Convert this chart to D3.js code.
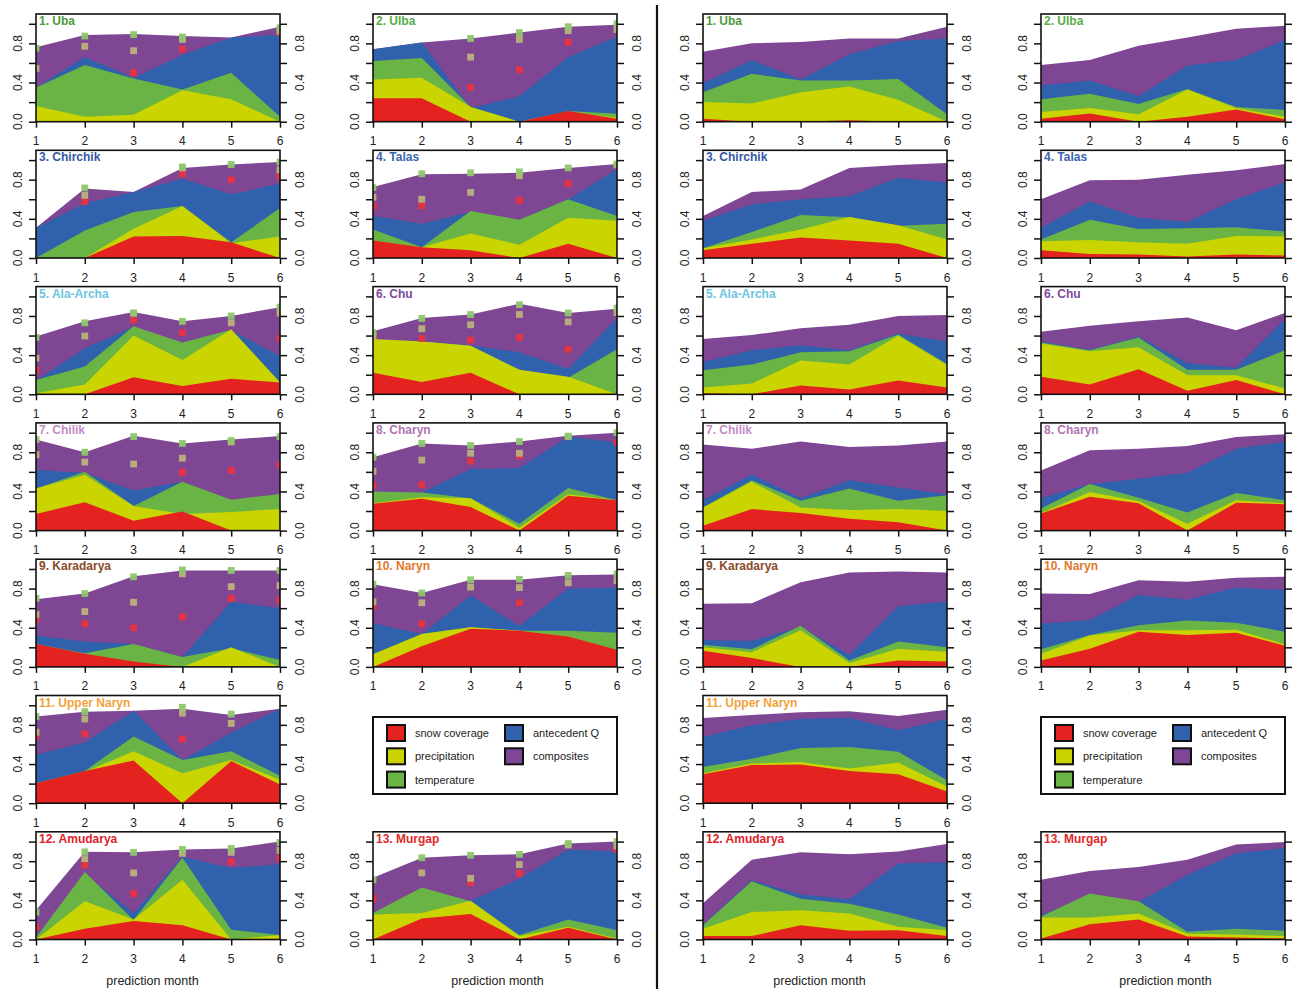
<!DOCTYPE html>
<html>
<head>
<meta charset="utf-8">
<script src="https://cdn.jsdelivr.net/npm/d3@7"></script>
<style>
  body { margin: 0; background: #fff; }
  text { font-family: "Liberation Sans", Arial, sans-serif; }
</style>
</head>
<body>
<div id="chart"></div>
<script>
// --- data ---
const months = [1, 2, 3, 4, 5, 6];
const yTicks = [0, 0.2, 0.4, 0.6, 0.8, 1.0];
const yLabels = [0, 0.4, 0.8];
const basins = ["1. Uba", "2. Ulba", "3. Chirchik", "4. Talas", "5. Ala-Archa", "6. Chu", "7. Chilik",
  "8. Charyn", "9. Karadarya", "10. Naryn", "11. Upper Naryn", "12. Amudarya", "13. Murgap"];
const basinColors = ["#4f9a3c", "#5aab48", "#3458a3", "#3a63b0", "#6cc5e0", "#7d4a9c", "#c48bc9",
  "#b273b3", "#8b4a2b", "#e2782c", "#f2a23a", "#e0202a", "#e02a2a"];
const factors = ["composites", "antecedent Q", "temperature", "precipitation", "snow coverage"];
const factorColors = ["#7f4693", "#2f61ad", "#69b445", "#c9d400", "#e42320"];

// left half (with scores)
const compL = [
  [0.76,0.885,0.895,0.875,0.86,0.97],[0.74,0.81,0.85,0.91,0.97,0.99],[0.31,0.71,0.675,0.92,0.955,0.98],
  [0.725,0.855,0.86,0.87,0.92,0.96],[0.59,0.745,0.84,0.745,0.8,0.89],[0.645,0.78,0.815,0.925,0.83,0.875],
  [0.93,0.8,0.97,0.89,0.93,0.965],[0.75,0.89,0.87,0.91,0.97,1.0],[0.69,0.75,0.925,0.985,0.985,0.985],
  [0.845,0.755,0.89,0.89,0.935,0.945],[0.885,0.935,0.945,0.965,0.9,0.965],[0.3,0.895,0.89,0.92,0.93,1.0],
  [0.63,0.835,0.86,0.87,0.98,1.0]];
const antQL = [
  [0.35,0.66,0.45,0.68,0.86,0.885],[0.74,0.81,0.14,0.26,0.66,0.87],[0.31,0.56,0.675,0.81,0.65,0.76],
  [0.43,0.35,0.47,0.39,0.6,0.91],[0.14,0.47,0.69,0.53,0.655,0.39],[0.56,0.54,0.5,0.43,0.26,0.78],
  [0.62,0.59,0.41,0.5,0.31,0.37],[0.4,0.39,0.63,0.64,0.96,0.9],[0.32,0.26,0.235,0.1,0.665,0.6],
  [0.445,0.335,0.73,0.42,0.8,0.81],[0.495,0.62,0.945,0.44,0.72,0.965],[0.02,0.67,0.27,0.845,0.73,0.77],
  [0.27,0.5,0.395,0.62,0.92,0.895]];
const tempL = [
  [0.35,0.58,0.44,0.33,0.5,0.05],[0.62,0.65,0.15,0,0.11,0.08],[0,0.28,0.47,0.53,0.16,0.51],
  [0.29,0.11,0.48,0.39,0.6,0.43],[0.145,0.285,0.695,0.53,0.66,0.12],[0.56,0.54,0.495,0.25,0.17,0.46],
  [0.43,0.6,0.25,0.5,0.315,0.375],[0.4,0.39,0.33,0.07,0.435,0.31],[0.235,0.14,0.235,0.1,0.19,0.07],
  [0.13,0.335,0.405,0.37,0.37,0.35],[0.205,0.33,0.68,0.44,0.53,0.28],[0.02,0.69,0.2,0.835,0.1,0.045],
  [0.27,0.53,0.39,0.045,0.205,0.095]];
const precipL = [
  [0.16,0.05,0.07,0.32,0.23,0],[0.43,0.45,0.15,0,0.1,0.04],[0,0,0.3,0.53,0.15,0.22],
  [0.17,0.11,0.25,0.135,0.41,0.38],[0.01,0.1,0.6,0.35,0.665,0.12],[0.565,0.54,0.495,0.25,0.18,0],
  [0.43,0.57,0.25,0.17,0.19,0.22],[0.28,0.34,0.33,0.03,0.37,0.31],[0.2,0.12,0.05,0,0.2,0],
  [0.13,0.335,0.405,0.37,0.31,0.17],[0.2,0.32,0.53,0.305,0.44,0.24],[0,0.39,0.205,0.61,0,0.045],
  [0.255,0.27,0.395,0.035,0.13,0.01]];
const snowL = [
  [0,0,0,0,0,0],[0.24,0.24,0,0,0.11,0.03],[0,0,0.22,0.225,0.16,0],
  [0.18,0.11,0.08,0,0.145,0],[0,0,0.175,0.085,0.16,0.12],[0.22,0.125,0.22,0,0,0],
  [0.17,0.29,0.1,0.195,0,0],[0.275,0.325,0.24,0,0.355,0.31],[0.235,0.135,0.055,0,0,0],
  [0,0.21,0.39,0.37,0.31,0.175],[0.205,0.33,0.435,0,0.43,0.19],[0,0.11,0.19,0.145,0,0],
  [0,0.215,0.26,0,0.12,0]];

// score markers (left half only)
const dotGreen = [
  [0.75,0.875,0.89,0.865,null,0.96],[null,null,0.85,0.91,0.97,1.0],[null,0.715,null,0.93,0.955,0.98],
  [0.72,0.86,0.87,0.88,0.92,0.96],[0.58,0.73,0.83,0.745,0.8,0.89],[0.63,0.775,0.815,0.915,0.83,0.88],
  [0.93,0.8,0.96,0.89,0.92,0.96],[0.75,0.89,0.87,0.91,0.965,1.0],[0.7,0.75,0.92,0.99,0.985,0.985],
  [0.845,0.755,0.89,0.895,0.935,0.95],[0.885,0.935,null,0.98,0.91,null],[0.28,0.895,0.89,0.92,0.93,0.99],
  [0.61,0.835,0.86,0.87,0.98,1.0]];
const dotKhaki = [
  [0.545,0.77,0.725,0.84,null,0.925],[null,null,0.66,0.84,0.93,0.94],[null,0.64,null,0.92,null,0.9],
  [0.62,0.6,0.67,0.84,null,0.95],[0.37,0.595,0.83,null,0.73,0.83],[0.6,0.67,0.71,0.815,0.74,0.835],
  [0.775,0.7,0.68,0.74,0.905,null],[0.605,0.72,0.79,0.79,0.96,null],[0.535,0.565,0.66,0.95,0.82,0.83],
  [0.665,0.655,0.815,0.81,0.86,0.88],[0.725,0.86,null,0.92,0.815,null],[null,0.825,0.68,0.88,0.89,0.91],
  [null,0.68,0.625,0.765,0.965,0.955]];
const dotRed = [
  [null,null,0.5,0.74,null,0.91],[null,null,0.35,0.53,0.81,null],[null,0.575,null,0.86,0.8,0.83],
  [0.53,0.535,null,0.59,0.76,null],[0.25,null,0.76,0.63,null,0.57],[0.605,0.57,0.555,0.58,0.46,null],
  [null,null,null,0.595,0.615,0.67],[0.46,0.47,0.71,0.765,null,0.9],[0.485,0.44,0.4,0.51,0.7,0.68],
  [0.615,0.44,null,0.655,null,null],[0.69,0.71,null,0.655,null,null],[0.13,0.76,0.47,null,0.795,0.83],
  [0.42,null,0.58,0.675,null,0.92]];
const dotColors = ["#e8343f", "#b9b27b", "#8ec76c"];

// right half
const compR = [
  [0.715,0.8,0.815,0.85,0.85,0.97],[0.58,0.63,0.775,0.86,0.95,0.98],[0.43,0.675,0.7,0.92,0.95,0.97],
  [0.6,0.795,0.8,0.85,0.895,0.96],[0.565,0.605,0.675,0.71,0.8,0.81],[0.64,0.7,0.745,0.785,0.655,0.83],
  [0.88,0.835,0.91,0.855,0.87,0.91],[0.615,0.82,0.835,0.865,0.955,0.985],[0.645,0.65,0.865,0.965,0.975,0.965],
  [0.75,0.745,0.885,0.87,0.91,0.92],[0.87,0.9,0.93,0.94,0.89,0.955],[0.37,0.815,0.89,0.87,0.9,0.975],
  [0.61,0.7,0.74,0.815,0.97,0.995]];
const antQR = [
  [0.395,0.63,0.43,0.69,0.825,0.85],[0.37,0.42,0.26,0.575,0.63,0.835],[0.38,0.55,0.6,0.63,0.82,0.77],
  [0.31,0.58,0.41,0.37,0.6,0.775],[0.33,0.45,0.5,0.45,0.62,0.54],[0.54,0.455,0.59,0.32,0.27,0.77],
  [0.31,0.575,0.33,0.515,0.44,0.37],[0.33,0.475,0.53,0.59,0.835,0.91],[0.275,0.265,0.41,0.125,0.62,0.67],
  [0.44,0.48,0.735,0.685,0.81,0.785],[0.675,0.795,0.86,0.87,0.745,0.86],[0.15,0.605,0.46,0.41,0.775,0.79],
  [0.25,0.45,0.385,0.66,0.88,0.935]];
const tempR = [
  [0.3,0.49,0.42,0.42,0.435,0.075],[0.23,0.285,0.18,0.335,0.15,0.12],[0.1,0.265,0.44,0.415,0.33,0.35],
  [0.19,0.39,0.295,0.305,0.315,0.27],[0.245,0.305,0.43,0.44,0.61,0.31],[0.53,0.45,0.58,0.25,0.25,0.45],
  [0.235,0.515,0.305,0.43,0.305,0.36],[0.225,0.475,0.335,0.185,0.385,0.31],[0.225,0.18,0.42,0.065,0.26,0.2],
  [0.18,0.325,0.425,0.475,0.45,0.36],[0.37,0.455,0.565,0.575,0.525,0.235],[0.145,0.595,0.415,0.365,0.255,0.12],
  [0.235,0.47,0.39,0.08,0.11,0.09]];
const precipR = [
  [0.2,0.185,0.3,0.36,0.225,0],[0.1,0.14,0.075,0.33,0.14,0.05],[0.1,0.19,0.29,0.42,0.335,0.19],
  [0.17,0.185,0.16,0.145,0.225,0.22],[0.07,0.11,0.345,0.305,0.6,0.3],[0.52,0.44,0.48,0.195,0.195,0.06],
  [0.235,0.5,0.235,0.21,0.22,0.2],[0.18,0.395,0.3,0.07,0.31,0.28],[0.2,0.15,0.375,0.04,0.185,0.155],
  [0.135,0.32,0.375,0.375,0.38,0.23],[0.305,0.405,0.42,0.355,0.415,0.17],[0.11,0.28,0.3,0.265,0.13,0.095],
  [0.225,0.225,0.265,0.06,0.05,0.035]];
const snowR = [
  [0.03,0,0,0.015,0,0],[0.03,0.085,0,0.05,0.125,0.025],[0.08,0.145,0.21,0.18,0.145,0],
  [0.08,0.04,0.035,0.015,0.035,0.025],[0.01,0,0.09,0.05,0.14,0.07],[0.18,0.1,0.255,0.035,0.145,0],
  [0.05,0.22,0.18,0.12,0.085,0],[0.175,0.345,0.28,0,0.285,0.27],[0.165,0.09,0,0,0.065,0.055],
  [0.065,0.185,0.36,0.325,0.35,0.215],[0.295,0.39,0.395,0.33,0.295,0.12],[0.035,0.035,0.145,0.09,0.095,0.035],
  [0.01,0.155,0.205,0.03,0.02,0.01]];

// --- layout ---
const W = 1299, H = 989;
const colLeft = [36, 373, 703, 1041];
const xLabelShift = [-5.5, 2.5, -5.5, 2.5]; // "prediction month" offset from column centre
const plotW = 244, plotH = 107.7, rowTop0 = 14, rowStep = 136.3;
const legendOrder = [4, 3, 2, 1, 0]; // snow, precip, temp / antQ, comp

const svg = d3.select("#chart").append("svg").attr("width", W).attr("height", H);

// divider between the two halves
svg.append("line").attr("x1", 657).attr("x2", 657).attr("y1", 5).attr("y2", H)
  .attr("stroke", "#111").attr("stroke-width", 2.2);

function drawPanel(half, i) {
  const slot = i < 11 ? i : i + 1;
  const row = Math.floor(slot / 2), col = half * 2 + (slot % 2);
  const left = colLeft[col], top = rowTop0 + row * rowStep;
  const x = d3.scaleLinear().domain([1, 6]).range([left, left + plotW]);
  const y = d3.scaleLinear().domain([0, 1.1]).range([top + plotH, top]);
  const series = half === 0
    ? [compL[i], antQL[i], tempL[i], precipL[i], snowL[i]]
    : [compR[i], antQR[i], tempR[i], precipR[i], snowR[i]];

  const g = svg.append("g");
  const area = d3.area().x((d, k) => x(months[k])).y0(y(0)).y1(d => y(d));
  series.forEach((s, k) => {
    g.append("path").datum(s).attr("d", area).attr("fill", factorColors[k]);
  });

  if (half === 0) {
    const clipId = "clip" + i;
    svg.append("clipPath").attr("id", clipId).append("rect")
      .attr("x", left).attr("y", top).attr("width", plotW).attr("height", plotH);
    const dg = g.append("g").attr("clip-path", `url(#${clipId})`);
    [dotRed[i], dotKhaki[i], dotGreen[i]].forEach((s, k) => {
      dg.selectAll(null).data(months.map((m, j) => ({ m, v: s[j] })).filter(d => d.v != null))
        .enter().append("rect")
        .attr("x", d => x(d.m) - 3.4).attr("y", d => y(d.v) - 3.4)
        .attr("width", 6.8).attr("height", 6.8)
        .attr("fill", dotColors[k]).attr("opacity", 0.95);
    });
  }

  // frame
  g.append("rect").attr("x", left).attr("y", top).attr("width", plotW).attr("height", plotH)
    .attr("fill", "none").attr("stroke", "#111").attr("stroke-width", 1.6);

  // axes
  const yl = d3.axisLeft(y).tickValues(yTicks).tickSize(7).tickFormat("");
  const yr = d3.axisRight(y).tickValues(yTicks).tickSize(7).tickFormat("");
  const xb = d3.axisBottom(x).tickValues(months).tickSize(6).tickFormat("");
  [g.append("g").attr("transform", `translate(${left},0)`).call(yl),
   g.append("g").attr("transform", `translate(${left + plotW},0)`).call(yr),
   g.append("g").attr("transform", `translate(0,${top + plotH})`).call(xb)].forEach(a => {
    a.select(".domain").remove();
    a.selectAll("line").attr("stroke", "#111").attr("stroke-width", 1.5);
  });

  yLabels.forEach(v => {
    g.append("text").attr("transform", `translate(${left - 14},${y(v)}) rotate(-90)`)
      .attr("text-anchor", "middle").attr("font-size", 12).attr("fill", "#222").text(v.toFixed(1));
    // the outermost column's right-hand labels fall outside the picture
    if (col < 3) {
      g.append("text").attr("transform", `translate(${left + plotW + 24},${y(v)}) rotate(-90)`)
        .attr("text-anchor", "middle").attr("font-size", 12).attr("fill", "#222").text(v.toFixed(1));
    }
  });
  months.forEach(m => {
    g.append("text").attr("x", x(m)).attr("y", top + plotH + 23.5)
      .attr("text-anchor", "middle").attr("font-size", 12).attr("fill", "#222").text(m);
  });

  g.append("text").attr("x", left + 3).attr("y", top + 11)
    .attr("font-size", 12).attr("font-weight", "bold").attr("fill", basinColors[i]).text(basins[i]);

  if (i >= 11) {
    g.append("text").attr("x", left + plotW / 2 + xLabelShift[col]).attr("y", H - 4)
      .attr("text-anchor", "middle").attr("font-size", 12.5).attr("fill", "#222").text("prediction month");
  }
}

function drawLegend(half) {
  const left = colLeft[half * 2 + 1], top = 717;
  const lg = svg.append("g");
  lg.append("rect").attr("x", left).attr("y", top).attr("width", plotW).attr("height", 77)
    .attr("fill", "#fff").attr("stroke", "#111").attr("stroke-width", 2);
  legendOrder.forEach((k, n) => {
    const c = n < 3 ? 0 : 1, r = n < 3 ? n : n - 3;
    const lx = left + 14 + c * 118, ly = top + 8 + r * 23.3;
    lg.append("rect").attr("x", lx).attr("y", ly).attr("width", 18).attr("height", 16)
      .attr("fill", factorColors[k]).attr("stroke", "#111").attr("stroke-width", 2);
    lg.append("text").attr("x", lx + 28).attr("y", ly + 12).attr("font-size", 11)
      .attr("fill", "#222").text(factors[k]);
  });
}

[0, 1].forEach(half => {
  basins.forEach((b, i) => drawPanel(half, i));
  drawLegend(half);
});
</script>
</body>
</html>
